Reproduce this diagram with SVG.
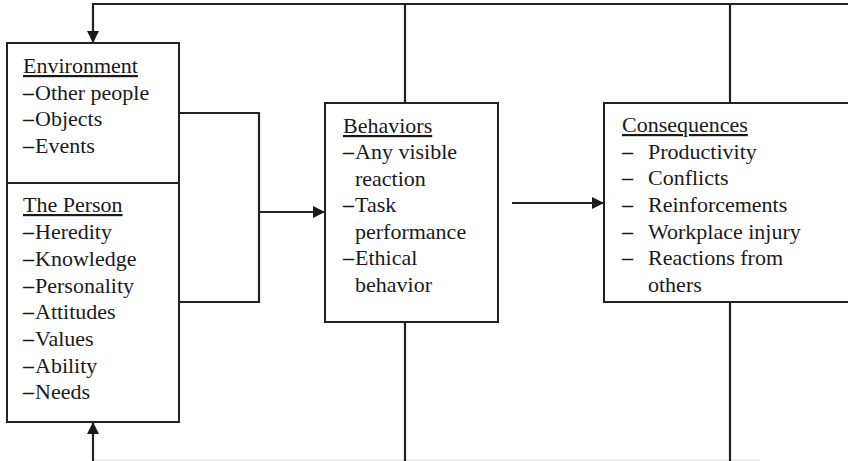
<svg xmlns="http://www.w3.org/2000/svg" width="848" height="461" viewBox="0 0 848 461">
<style>
.box{fill:#fff;stroke:#222;stroke-width:2}
.ln{fill:none;stroke:#222;stroke-width:2.2}
text{font-family:"Liberation Serif","Times New Roman",serif;font-size:22px;fill:#1a1a1a}
.u{text-decoration:underline}
.d{font-weight:bold}
</style>
<defs>
<marker id="ah" viewBox="0 0 12 12" refX="12" refY="6" markerWidth="12" markerHeight="12" markerUnits="userSpaceOnUse" orient="auto">
<path d="M0,0 L12,6 L0,12 Z" fill="#1a1a1a"/>
</marker>
</defs>
<g id="connectors">
<line x1="93" y1="460" x2="760" y2="460" stroke="#ddd" stroke-width="1"/>
<polyline class="ln" points="848,4 93,4 93,43" marker-end="url(#ah)"/>
<line class="ln" x1="405" y1="4" x2="405" y2="103"/>
<line class="ln" x1="730" y1="4" x2="730" y2="103"/>
<polyline class="ln" points="179,113 259,113 259,302 179,302"/>
<line class="ln" x1="259" y1="212" x2="325" y2="212" marker-end="url(#ah)"/>
<line class="ln" x1="512" y1="203" x2="604" y2="203" marker-end="url(#ah)"/>
<line class="ln" x1="405" y1="322" x2="405" y2="461"/>
<line class="ln" x1="730" y1="302" x2="730" y2="461"/>
<line class="ln" x1="93" y1="461" x2="93" y2="422" marker-end="url(#ah)"/>
</g>
<g id="left-node">
<rect class="box" x="7" y="43" width="172" height="379"/>
<line class="ln" x1="7" y1="183" x2="179" y2="183"/>
</g>
<g id="environment">
<text x="23" y="73" class="u">Environment</text>
<text x="23" y="100"><tspan class="d">–</tspan><tspan dx="1">Other people</tspan></text>
<text x="23" y="126"><tspan class="d">–</tspan><tspan dx="1">Objects</tspan></text>
<text x="23" y="153"><tspan class="d">–</tspan><tspan dx="1">Events</tspan></text>
</g>
<g id="person">
<text x="23" y="212" class="u">The Person</text>
<text x="23" y="239"><tspan class="d">–</tspan><tspan dx="1">Heredity</tspan></text>
<text x="23" y="266"><tspan class="d">–</tspan><tspan dx="1">Knowledge</tspan></text>
<text x="23" y="293"><tspan class="d">–</tspan><tspan dx="1">Personality</tspan></text>
<text x="23" y="319"><tspan class="d">–</tspan><tspan dx="1">Attitudes</tspan></text>
<text x="23" y="346"><tspan class="d">–</tspan><tspan dx="1">Values</tspan></text>
<text x="23" y="373"><tspan class="d">–</tspan><tspan dx="1">Ability</tspan></text>
<text x="23" y="399"><tspan class="d">–</tspan><tspan dx="1">Needs</tspan></text>
</g>
<g id="behaviors">
<rect class="box" x="325" y="103" width="173" height="219"/>
<text x="343" y="133" class="u">Behaviors</text>
<text x="343" y="159"><tspan class="d">–</tspan><tspan dx="1">Any visible</tspan></text>
<text x="355" y="186">reaction</text>
<text x="343" y="212"><tspan class="d">–</tspan><tspan dx="1">Task</tspan></text>
<text x="355" y="239">performance</text>
<text x="343" y="265"><tspan class="d">–</tspan><tspan dx="1">Ethical</tspan></text>
<text x="355" y="292">behavior</text>
</g>
<g id="consequences">
<rect class="box" x="604" y="103" width="260" height="199"/>
<text x="622" y="132" class="u">Consequences</text>
<text x="622" y="159" class="d">–</text><text x="648" y="159">Productivity</text>
<text x="622" y="185" class="d">–</text><text x="648" y="185">Conflicts</text>
<text x="622" y="212" class="d">–</text><text x="648" y="212">Reinforcements</text>
<text x="622" y="239" class="d">–</text><text x="648" y="239">Workplace injury</text>
<text x="622" y="265" class="d">–</text><text x="648" y="265">Reactions from</text>
<text x="648" y="292">others</text>
</g>
</svg>
